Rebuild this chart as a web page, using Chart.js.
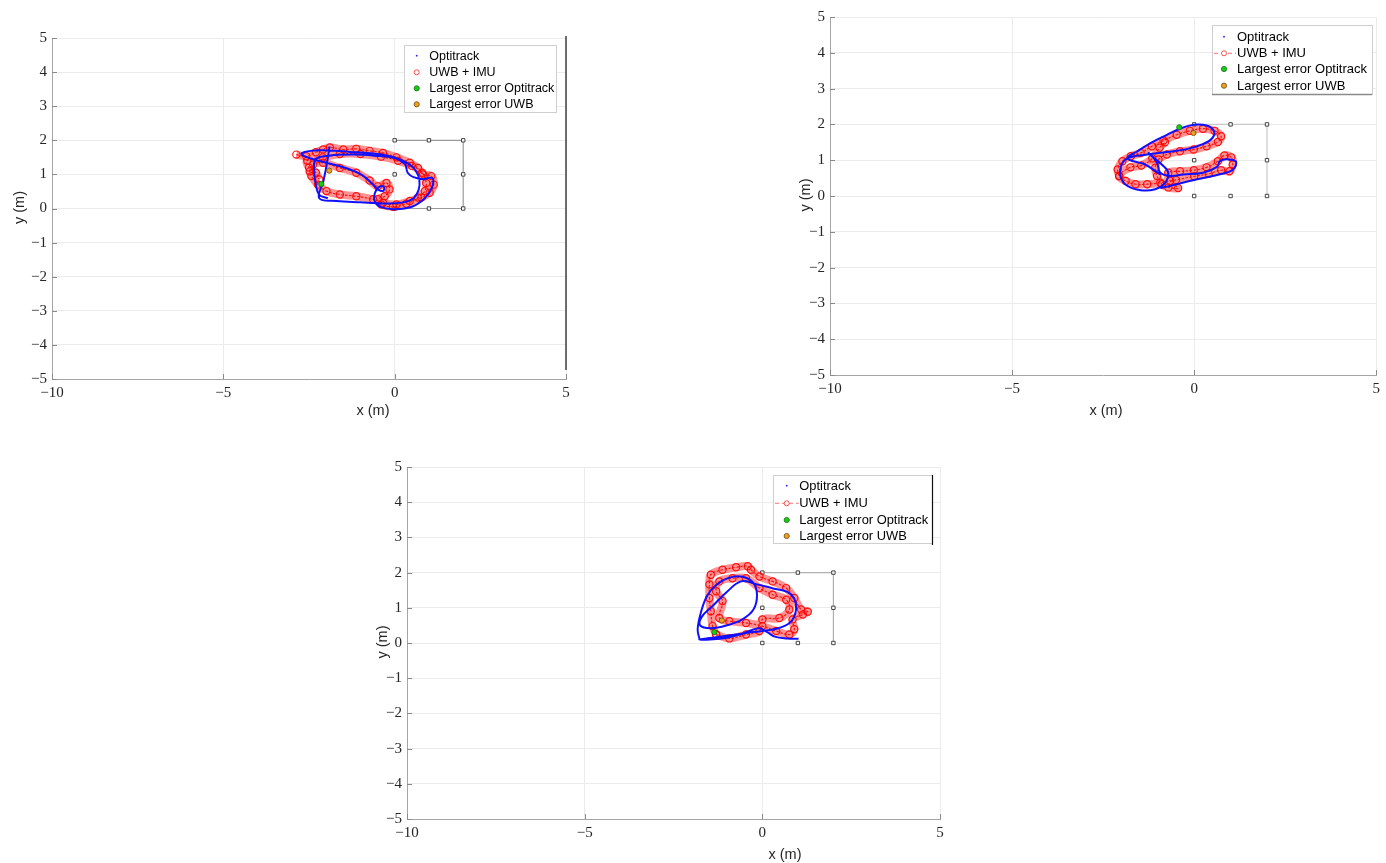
<!DOCTYPE html>
<html><head><meta charset="utf-8">
<script src="https://cdn.jsdelivr.net/npm/chart.js@4.4.0/dist/chart.umd.min.js"></script>
<style>
html,body{margin:0;padding:0;background:#fff;overflow:hidden;width:1386px;height:863px;}
canvas{position:absolute;}
</style></head><body>
<canvas id="c1" width="574" height="405" style="left:12px;top:24px"></canvas>
<canvas id="c2" width="595" height="422" style="left:790px;top:3px"></canvas>
<canvas id="c3" width="593" height="416" style="left:367px;top:453px"></canvas>
<script>
// ---------- DATA ----------
const xTicks = [-10, -5, 0, 5];
const yTicks = [-5, -4, -3, -2, -1, 0, 1, 2, 3, 4, 5];
const legendLabels = ['Optitrack', 'UWB + IMU', 'Largest error Optitrack', 'Largest error UWB'];
const axisTitleX = 'x (m)';
const axisTitleY = 'y (m)';

const anchors = [[0,0],[1,0],[2,0],[0,1],[2,1],[0,2],[1,2],[2,2]];
const boxEdge1 = [[0,2],[2,2],[2,0],[0,0]];
const boxEdge23 = [[0,2],[2,2],[2,0]];

// Plot 1 (top-left)
const opti1 = [[-1.90,1.82],[-1.98,1.30],[-2.08,0.80],[-2.20,0.30],[-1.70,0.22],[-1.00,0.18],[-0.30,0.15],[0.25,0.18],[0.55,0.30],[0.70,0.55],[0.72,0.85],[0.62,1.10],[0.45,1.28],[0.20,1.42],[-0.20,1.55],[-0.70,1.62],[-1.30,1.66],[-1.90,1.70],[-2.45,1.69],[-2.72,1.60],[-2.40,1.45],[-1.90,1.32],[-1.40,1.18],[-0.95,0.98],[-0.65,0.72],[-0.48,0.55],[-0.33,0.52],[-0.32,0.64],[-0.47,0.62],[-0.58,0.45],[-0.58,0.20],[-0.40,0.04],[0.00,-0.02],[0.50,0.05],[0.88,0.30],[1.08,0.60],[1.12,0.88],[1.00,0.90],[0.85,0.86],[0.55,0.92],[0.38,1.05],[0.30,1.30],[0.00,1.48],[-0.60,1.55],[-1.20,1.58],[-1.90,1.55],[-2.30,1.45],[-2.35,1.10],[-2.30,0.70],[-2.20,0.40],[-1.95,0.30]];
const uwb1 = [[-2.87,1.58],[-2.58,1.53],[-2.30,1.65],[-2.09,1.73],[-1.89,1.79],[-1.50,1.73],[-1.12,1.75],[-0.73,1.69],[-0.34,1.63],[0.05,1.50],[0.44,1.34],[0.68,1.19],[0.83,1.00],[1.07,0.95],[1.14,0.70],[1.02,0.46],[0.78,0.32],[0.44,0.22],[0.05,0.12],[-0.34,0.17],[-0.63,0.27],[-1.12,0.36],[-1.60,0.41],[-1.99,0.51],[-2.24,0.70],[-2.43,0.95],[-2.48,1.09],[-2.38,1.29],[-2.09,1.34],[-1.60,1.19],[-1.12,1.05],[-0.73,0.82],[-0.49,0.65],[-0.24,0.75],[-0.15,0.56],[-0.29,0.36],[-0.49,0.27],[-0.39,0.12],[-0.05,0.05],[0.34,0.14],[0.68,0.32],[0.88,0.51],[0.92,0.75],[0.80,1.05],[0.50,1.25],[0.10,1.40],[-0.40,1.52],[-1.00,1.60],[-1.60,1.60],[-2.10,1.50],[-2.55,1.40],[-2.50,1.20],[-2.30,1.05],[-2.20,0.85]];
const errOpti1 = [[-2.14,0.72]];
const errUwb1 = [[-1.91,1.11]];

// Plot 2 (top-right)
const opti2 = [[-0.93,0.60],[-1.35,0.88],[-1.83,1.05],[-1.56,1.25],[-1.20,1.48],[-0.75,1.71],[-0.39,1.88],[-0.01,1.99],[0.34,1.97],[0.54,1.82],[0.50,1.62],[0.24,1.45],[-0.21,1.31],[-0.75,1.23],[-1.29,1.16],[-1.83,1.05],[-2.01,0.83],[-2.01,0.51],[-1.83,0.28],[-1.47,0.16],[-1.07,0.19],[-0.80,0.37],[-0.71,0.65],[-0.89,0.88],[-1.16,1.11],[-1.25,1.20],[-1.20,1.16],[-1.02,0.93],[-0.93,0.65],[-0.66,0.56],[-0.30,0.60],[0.24,0.65],[0.64,0.82],[0.70,0.97],[0.88,1.03],[1.14,0.97],[1.11,0.79],[0.97,0.68],[0.51,0.56],[-0.03,0.44],[-0.48,0.33],[-0.93,0.22]];
const uwb2 = [[-2.06,0.56],[-2.10,0.74],[-1.97,0.97],[-1.74,1.11],[-1.47,1.20],[-1.16,1.39],[-0.84,1.55],[-0.48,1.71],[-0.12,1.82],[0.24,1.88],[0.56,1.82],[0.74,1.67],[0.65,1.51],[0.34,1.39],[-0.01,1.30],[-0.39,1.25],[-0.75,1.16],[-0.98,1.02],[-1.07,0.79],[-1.02,0.56],[-0.89,0.33],[-0.71,0.24],[-0.44,0.22],[-0.66,0.42],[-0.71,0.65],[-0.39,0.69],[-0.01,0.72],[0.34,0.80],[0.65,0.97],[0.83,1.13],[1.02,1.08],[1.06,0.88],[0.97,0.69],[0.74,0.72],[0.40,0.62],[0.00,0.55],[-0.50,0.45],[-0.93,0.37],[-1.29,0.33],[-1.61,0.33],[-1.88,0.42],[-2.06,0.56],[-1.75,0.80],[-1.45,0.85],[-1.15,1.05],[-0.95,1.35],[-0.80,1.50]];
const errOpti2 = [[-0.41,1.92]];
const errUwb2 = [[-0.02,1.76]];

// Plot 3 (bottom)
const opti3 = [[-1.77,0.12],[-1.82,0.40],[-1.72,0.90],[-1.55,1.35],[-1.30,1.65],[-0.95,1.85],[-0.55,1.88],[-0.25,1.70],[-0.15,1.35],[-0.25,0.95],[-0.55,0.68],[-1.00,0.50],[-1.45,0.42],[-1.75,0.50],[-1.70,0.75],[-1.40,1.05],[-1.00,1.45],[-0.60,1.75],[-0.20,1.68],[0.30,1.55],[0.70,1.45],[0.90,1.25],[0.95,0.95],[0.80,0.60],[0.45,0.42],[0.05,0.35],[-0.50,0.28],[-1.20,0.18],[-1.78,0.10],[-1.20,0.12],[-0.60,0.25],[-0.10,0.42],[0.15,0.30],[0.35,0.18],[0.70,0.13],[1.02,0.12]];
const uwb3 = [[-1.30,0.24],[-1.40,0.48],[-1.45,0.90],[-1.49,1.28],[-1.49,1.66],[-1.45,1.94],[-1.12,2.08],[-0.74,2.15],[-0.41,2.18],[-0.32,2.08],[-0.08,1.89],[0.29,1.75],[0.67,1.56],[0.90,1.28],[1.09,0.95],[1.28,0.89],[1.14,0.81],[0.85,0.67],[0.90,0.39],[0.76,0.24],[0.39,0.34],[0.00,0.48],[-0.46,0.57],[-0.93,0.62],[-1.21,0.71],[-1.12,1.19],[-1.30,1.47],[-1.21,1.75],[-0.84,1.84],[-0.46,1.84],[-0.08,1.56],[0.29,1.37],[0.67,1.23],[0.76,0.95],[0.48,0.71],[0.00,0.67],[-0.08,0.34],[-0.46,0.24],[-0.93,0.13],[-1.30,0.24]];
const errOpti3 = [[-1.35,0.31]];
const errUwb3 = [[-1.14,0.64]];

// ---------- RENDERING ----------
const pts = a => a.map(p => ({x: p[0], y: p[1]}));
const fmt = v => v < 0 ? '\u2212' + Math.abs(v) : String(v);
const TICKFONT = {family: 'Liberation Serif', size: 15};

function makeChart(id, g, opti, uwb, eo, eu, edge) {
  const deco = {
    id: 'deco' + id,
    afterDraw(chart) {
      const ctx = chart.ctx, ca = chart.chartArea;
      const X = px => px - g.cl, Y = py => py - g.ct;
      ctx.save();
      ctx.strokeStyle = '#8a8a8a'; ctx.lineWidth = 1;
      const ys = chart.scales.y, xs = chart.scales.x;
      yTicks.forEach(t => { const p = Math.round(ys.getPixelForValue(t)) + 0.5;
        ctx.beginPath(); ctx.moveTo(ca.left, p); ctx.lineTo(ca.left + 5, p); ctx.stroke(); });
      xTicks.forEach(t => { const p = Math.round(xs.getPixelForValue(t)) + 0.5;
        ctx.beginPath(); ctx.moveTo(p, ca.bottom); ctx.lineTo(p, ca.bottom - 5); ctx.stroke(); });
      if (g.rightLine) {
        ctx.strokeStyle = '#111'; ctx.lineWidth = 1.2;
        ctx.beginPath(); ctx.moveTo(X(g.rightLine[0]), Y(g.rightLine[1])); ctx.lineTo(X(g.rightLine[0]), Y(g.rightLine[2])); ctx.stroke();
      }
      const L = g.legend;
      const [bl, bt, br, bb] = L.box;
      ctx.fillStyle = '#fff';
      ctx.fillRect(X(bl), Y(bt), br - bl, bb - bt);
      ctx.lineWidth = 1;
      ctx.strokeStyle = '#cfcfcf';
      ctx.strokeRect(X(bl) + 0.5, Y(bt) + 0.5, br - bl, bb - bt);
      if (L.bottomDark) { ctx.strokeStyle = '#8a8a8a'; ctx.lineWidth = 1.5;
        ctx.beginPath(); ctx.moveTo(X(bl), Y(bb) + 0.5); ctx.lineTo(X(br), Y(bb) + 0.5); ctx.stroke(); }
      if (L.rightBlack) { ctx.strokeStyle = '#111'; ctx.lineWidth = 1.2;
        ctx.beginPath(); ctx.moveTo(X(br) + 0.5, Y(bt)); ctx.lineTo(X(br) + 0.5, Y(bb + 2)); ctx.stroke(); }
      ctx.font = L.font + 'px "Liberation Sans", Arial, sans-serif';
      ctx.fillStyle = '#000'; ctx.textBaseline = 'middle'; ctx.textAlign = 'left';
      legendLabels.forEach((t, i) => {
        const yy = Y(L.rows[i]), mx = X(L.mx);
        if (i === 0) { ctx.fillStyle = '#2020ff'; ctx.fillRect(mx - 0.8, yy - 0.8, 1.6, 1.6); }
        if (i === 1) {
          if (L.uwbDash) { ctx.save(); ctx.strokeStyle = 'rgba(255,60,60,0.75)'; ctx.lineWidth = 1; ctx.setLineDash([4, 3]);
            ctx.beginPath(); ctx.moveTo(X(bl) + 2, yy); ctx.lineTo(mx + 12, yy); ctx.stroke(); ctx.restore(); }
          ctx.strokeStyle = 'rgba(255,40,40,0.8)'; ctx.lineWidth = 1;
          ctx.beginPath(); ctx.arc(mx, yy, 2.5, 0, Math.PI * 2); ctx.fillStyle = '#fff'; ctx.fill(); ctx.stroke();
        }
        if (i === 2) { ctx.beginPath(); ctx.arc(mx, yy, 2.6, 0, Math.PI * 2); ctx.fillStyle = '#12d012'; ctx.fill(); ctx.strokeStyle = '#1a6a1a'; ctx.lineWidth = 0.8; ctx.stroke(); }
        if (i === 3) { ctx.beginPath(); ctx.arc(mx, yy, 2.6, 0, Math.PI * 2); ctx.fillStyle = '#eea020'; ctx.fill(); ctx.strokeStyle = '#6a4a10'; ctx.lineWidth = 0.8; ctx.stroke(); }
        ctx.fillStyle = '#000';
        ctx.fillText(t, X(L.tx), yy + 0.5);
      });
      ctx.font = '14.5px "Liberation Sans", Arial, sans-serif';
      ctx.fillStyle = '#262626'; ctx.textAlign = 'center'; ctx.textBaseline = 'middle';
      ctx.fillText(axisTitleX, X(g.xt[0]), Y(g.xt[1]));
      ctx.translate(X(g.yt[0]), Y(g.yt[1])); ctx.rotate(-Math.PI / 2);
      ctx.fillText(axisTitleY, 0, 0);
      ctx.restore();
    }
  };
  const scaleCommon = {
    type: 'linear',
    grid: {color: '#ebebeb', lineWidth: 1, drawTicks: false},
    border: {color: '#a5a5a5', width: 1},
  };
  return new Chart(document.getElementById(id), {
    type: 'scatter',
    data: {datasets: [
      {label: legendLabels[2], data: pts(eo), pointRadius: 2.6, pointBackgroundColor: '#12d012', pointBorderColor: '#1a6a1a', pointBorderWidth: 0.8, showLine: false},
      {label: legendLabels[3], data: pts(eu), pointRadius: 2.6, pointBackgroundColor: '#eea020', pointBorderColor: '#6a4a10', pointBorderWidth: 0.8, showLine: false},
      {label: legendLabels[0], data: pts(opti), showLine: true, borderColor: '#1010ff', borderWidth: 2, pointRadius: 0, tension: 0.4, fill: false},
      {label: legendLabels[1], data: pts(uwb), showLine: true, borderColor: 'rgba(240,0,0,0.85)', borderWidth: 1.2, borderDash: [2.5, 1.5], tension: 0.4, pointRadius: 3.6, pointBorderWidth: 1.2, pointBorderColor: 'rgba(255,0,0,0.9)', pointBackgroundColor: 'rgba(255,255,255,0)', fill: false},
      {label: 'uwbBand', data: pts(uwb), showLine: true, borderColor: 'rgba(255,40,40,0.5)', borderWidth: 8, tension: 0.4, pointRadius: 0, fill: false},
      {label: 'anchors', data: pts(anchors), pointStyle: 'rect', pointRadius: 2.4, pointBorderColor: '#444', pointBackgroundColor: '#fff', pointBorderWidth: 1, showLine: false},
      {label: 'box', data: pts(edge), showLine: true, borderColor: g.edgeColor, borderWidth: 1.2, pointRadius: 0, tension: 0}
    ]},
    options: {
      responsive: false, animation: false, events: [],
      layout: {padding: {top: g.pad.top, right: g.pad.right, left: 0, bottom: 0}},
      plugins: {legend: {display: false}, tooltip: {enabled: false}},
      scales: {
        x: Object.assign({}, scaleCommon, {min: -10, max: 5,
          afterBuildTicks: s => { s.ticks = xTicks.map(v => ({value: v})); },
          ticks: {padding: 5, color: '#262626', font: TICKFONT, maxRotation: 0, autoSkip: false, callback: v => fmt(v)},
          afterFit: s => { s.height = 50; }}),
        y: Object.assign({}, scaleCommon, {min: -5, max: 5,
          afterBuildTicks: s => { s.ticks = yTicks.map(v => ({value: v})); },
          ticks: {padding: 5, color: '#262626', font: TICKFONT, autoSkip: false, callback: v => fmt(v)},
          afterFit: s => { s.width = 40; }})
      }
    },
    plugins: [deco]
  });
}

makeChart('c1', {cl: 12, ct: 24, pad: {top: 12, right: 20}, xt: [373, 411], yt: [20, 207.5], rightLine: [566, 36, 370], edgeColor: '#9a9a9a',
  legend: {box: [404, 45, 556, 112], rows: [55.7, 72.3, 88.3, 104.3], mx: 416.7, tx: 429.3, font: 12.5, uwbDash: false}},
  opti1, uwb1, errOpti1, errUwb1, boxEdge1);
makeChart('c2', {cl: 790, ct: 3, pad: {top: 12, right: 3}, xt: [1106, 411], yt: [806, 195], edgeColor: '#c8c8c8',
  legend: {box: [1212, 25, 1372, 94], rows: [36.7, 53.3, 69, 85.7], mx: 1224, tx: 1237, font: 13, uwbDash: true, bottomDark: true}},
  opti2, uwb2, errOpti2, errUwb2, boxEdge23);
makeChart('c3', {cl: 367, ct: 453, pad: {top: 12, right: 20}, xt: [785, 855], yt: [383, 642], edgeColor: '#b0b0b0',
  legend: {box: [773, 475, 932, 543], rows: [485.7, 503.3, 520, 536], mx: 786.7, tx: 799.3, font: 12.9, uwbDash: true, rightBlack: true}},
  opti3, uwb3, errOpti3, errUwb3, boxEdge23);
</script>
</body></html>
